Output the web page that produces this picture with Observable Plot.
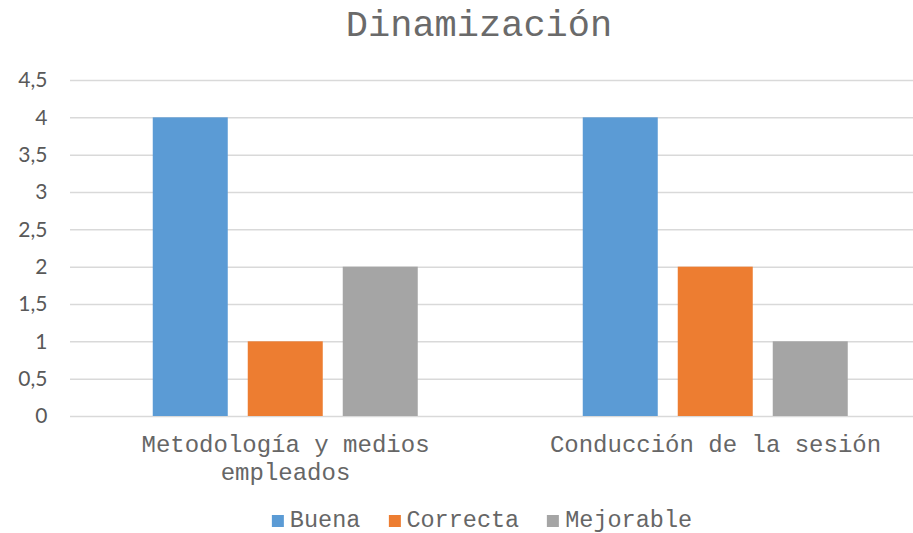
<!DOCTYPE html>
<html>
<head>
<meta charset="utf-8">
<script src="https://cdn.jsdelivr.net/npm/d3@7"></script>
<script src="https://cdn.jsdelivr.net/npm/@observablehq/plot@0.6"></script>
<style>
  html, body { margin: 0; padding: 0; background: #fff; }
  #wrap { position: relative; width: 913px; height: 533px; overflow: hidden; }
  #title { position: absolute; top: 6px; left: 479px; transform: translateX(-50%);
    font-family: "Liberation Mono", monospace; font-size: 37px; line-height: 40px; color: #6a6a6a; white-space: nowrap; }
  #chart { position: absolute; top: 60px; left: 0; }
  #legend { position: absolute; top: 509px; left: 482px; transform: translateX(-50%);
    display: flex; align-items: center; font-family: "Liberation Mono", monospace; font-size: 23.5px; color: #666; white-space: nowrap; line-height: 24px; }
  .item { display: flex; align-items: center; margin: 0 14px; }
  .sw { width: 12px; height: 12px; margin-right: 6px; }
</style>
</head>
<body>
<div id="wrap">
  <div id="title"></div>
  <div id="chart"></div>
  <div id="legend"></div>
</div>
<script>
const title = "Dinamización";
const categories = ["Metodología y medios\nempleados", "Conducción de la sesión"];
const seriesNames = ["Buena", "Correcta", "Mejorable"];
const seriesColors = ["#5b9bd5", "#ed7d31", "#a5a5a5"];
const buena = [4, 4];
const correcta = [1, 2];
const mejorable = [2, 1];
const yTicks = [0, 0.5, 1, 1.5, 2, 2.5, 3, 3.5, 4, 4.5];

const seriesValues = [buena, correcta, mejorable];
const data = [];
categories.forEach((c, i) => {
  seriesNames.forEach((s, j) => data.push({category: c, series: s, value: seriesValues[j][i]}));
});

document.getElementById("title").textContent = title;

const chart = Plot.plot({
  width: 913,
  height: 440,
  marginLeft: 69.25,
  marginRight: -17,
  marginTop: 20,
  marginBottom: 84,
  style: {background: "transparent", overflow: "visible"},
  fx: {domain: categories, padding: 0, label: null},
  x: {domain: seriesNames, paddingInner: 0.21, paddingOuter: 0.863, axis: null},
  y: {domain: [0, 4.5], label: null},
  color: {domain: seriesNames, range: seriesColors},
  marks: [
    Plot.gridY(yTicks, {stroke: "#d9d9d9", strokeOpacity: 1, strokeWidth: 1.5}),
    Plot.barY(data, {fx: "category", x: "series", y: "value", fill: "series"}),
    Plot.axisY(yTicks, {tickSize: 0, tickPadding: 23, tickFormat: d => String(d).replace(".", ","),
      fontFamily: "Lato, 'Liberation Sans', sans-serif", fontSize: 21, fill: "#595959", label: null}),
    Plot.axisFx({anchor: "bottom", tickSize: 0, tickPadding: 16, fontFamily: "'Liberation Mono', monospace",
      fontSize: 24, fill: "#666", lineHeight: 1.15, label: null})
  ]
});
document.getElementById("chart").appendChild(chart);

const legend = document.getElementById("legend");
seriesNames.forEach((s, i) => {
  const it = document.createElement("div");
  it.className = "item";
  const sw = document.createElement("div");
  sw.className = "sw";
  sw.style.background = seriesColors[i];
  const t = document.createElement("span");
  t.textContent = s;
  it.appendChild(sw); it.appendChild(t);
  legend.appendChild(it);
});
</script>
</body>
</html>
